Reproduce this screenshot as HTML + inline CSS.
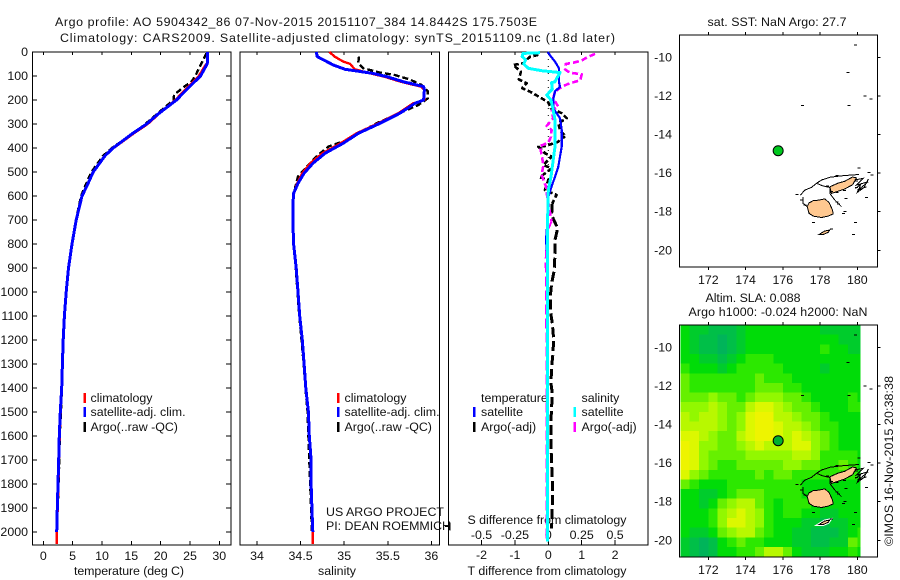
<!DOCTYPE html>
<html>
<head>
<meta charset="utf-8">
<title>Argo profile</title>
<style>
html,body{margin:0;padding:0;background:#fff;}
svg{display:block;}
text{font-family:"Liberation Sans",sans-serif;font-size:12.4px;fill:#111;}
</style>
</head>
<body>
<svg id="chart" xmlns="http://www.w3.org/2000/svg" width="900" height="580" viewBox="0 0 900 580">
<rect width="900" height="580" fill="#fff"/>
<defs>
<clipPath id="clip-map1"><rect x="679.5" y="35" width="198" height="232"/></clipPath>
<clipPath id="clip-map2"><rect x="679.5" y="325" width="198" height="232"/></clipPath>
</defs>
</svg>
<script>
/* ---------- axis tick values ---------- */
const depthTicks = [0,100,200,300,400,500,600,700,800,900,1000,1100,1200,1300,1400,1500,1600,1700,1800,1900,2000];
const tempTicks = [0,5,10,15,20,25,30];
const salTicks = [34,34.5,35,35.5,36];
const salTickLabels = ['34','34.5','35','35.5','36'];
const diffTTicks = [-2,-1,0,1,2];
const diffTLabels = ['-2','-1','0','1','2'];
const diffSTicks = [-0.5,-0.25,0,0.25,0.5];
const diffSLabels = ['-0.5','-0.25','0','0.25','0.5'];
const lonTicks = [172,174,176,178,180];
const latTicks = [-10,-12,-14,-16,-18,-20];

/* ---------- temperature panel ---------- */
const tempSatDepth = [0,47,60,100,157,200,258,300,338,400,433,500,560,600,700,800,900,1000,1100,1200,1300,1400,1500,1600,1700,1800,1900,2000];
const tempSat = [27.96,27.96,27.7,26.8,24.4,22.7,19.6,17.6,15.3,11.9,10.5,8.5,7.4,6.6,5.6,4.9,4.3,3.9,3.6,3.4,3.25,3.13,2.9,2.73,2.62,2.5,2.39,2.28];
const tempClimDepth = [0,47,60,100,157,200,258,300,338,400,433,500,560,600,700,800,900,1000,1100,1200,1300,1400,1500,1600,1700,1800,1900,2000,2050];
const tempClim = [27.9,27.9,27.5,26.5,24.2,22.5,19.7,17.8,15.5,12.0,10.5,8.5,7.4,6.6,5.6,4.9,4.3,3.9,3.6,3.4,3.25,3.15,2.95,2.8,2.68,2.58,2.45,2.3,2.28];
const tempArgoDepth = [5,25,60,100,122,145,178,200,258,300,338,400,433,500,560,600,700,800,900,1000,1100,1200,1300,1400,1500,1600,1700,1800,1900,2000];
const tempArgo = [27.8,27.4,26.7,25.9,25.3,24.0,22.3,22.2,19.4,17.4,15.4,11.7,10.2,8.2,7.1,6.45,5.55,4.9,4.3,3.9,3.6,3.4,3.27,3.17,3.0,2.8,2.72,2.6,2.45,2.32];

/* ---------- salinity panel ---------- */
const salSatDepth = [0,19,40,54,72,78,89,103,124,144,158,200,214,255,297,339,380,422,464,505,547,589,644,693,800,900,1000,1100,1200,1300,1400,1500,1600,1700,1800,1900,2000];
const salSat = [34.68,34.69,34.80,34.875,35.01,35.12,35.33,35.49,35.68,35.91,35.92,35.91,35.81,35.64,35.41,35.16,34.99,34.78,34.64,34.54,34.47,34.42,34.41,34.41,34.42,34.45,34.47,34.49,34.52,34.54,34.56,34.59,34.60,34.62,34.62,34.63,34.64];
const salClimDepth = [0,19,40,50,72,89,103,124,144,158,200,214,255,297,339,380,422,464,505,547,589,644,693,800,900,1000,1100,1200,1300,1400,1500,1600,1700,1800,1900,2000,2050];
const salClim = [34.83,34.89,34.99,35.07,35.12,35.30,35.46,35.65,35.88,35.92,35.92,35.79,35.62,35.39,35.14,34.96,34.75,34.61,34.52,34.46,34.42,34.41,34.41,34.42,34.45,34.47,34.49,34.52,34.54,34.56,34.59,34.60,34.62,34.62,34.63,34.64,34.64];
const salArgoDepth = [19,47,68,86,96,114,138,165,193,221,297,367,394,429,471,519,561,600,700,800,900,1000,1100,1200,1300,1400,1500,1600,1700,1800,1900,2000];
const salArgo = [35.17,35.16,35.22,35.41,35.58,35.75,35.89,35.96,35.96,35.85,35.37,35.03,34.82,34.70,34.59,34.47,34.44,34.42,34.41,34.42,34.445,34.465,34.485,34.51,34.535,34.555,34.58,34.59,34.60,34.61,34.62,34.63];

/* ---------- difference panel ---------- */
const dTSatDepth = [0,19,40,68,96,124,146,163,197,235,276,325,394,436,478,519,561,603,700,783,850,2000];
const dTSat = [-0.02,0.08,0.2,0.32,0.32,0.32,0.35,0.2,0.15,0.15,0.35,0.4,0.4,0.35,0.3,0.2,0.1,0,-0.02,-0.07,-0.03,-0.03];
const dSSatDepth = [3,6,19,33,50,68,78,86,110,124,128,155,179,200,242,283,339,394,450,519,575,700,2040];
const dSSat = [-0.062,-0.19,-0.195,-0.169,-0.184,-0.15,-0.05,0.088,0.063,0.05,0.025,0.03,-0.012,0.02,0.037,0.05,0.05,0.05,0.037,0.02,0,-0.005,-0.005];
const dTArgoDepth = [12,20,47,54,82,114,130,151,165,197,211,235,255,276,297,325,353,360,374,392,394,422,436,471,485,522,533,575,596,631,679,735,783,839,908,964,1019,1075,1131,1193,1256,1311,1381,1422,1533,1644,1714,1825,1894,1985];
const dTArgo = [-0.3,-0.55,-0.75,-1.05,-0.82,-0.88,-0.65,-0.78,-0.55,-0.15,0,0.08,0.4,0.55,0.3,0.35,0.52,0.35,0.3,-0.1,-0.3,-0.1,0.1,-0.15,0.1,-0.25,0,-0.1,0.25,0.12,0.1,0.28,0.2,0.2,0.18,0.1,0.06,0.06,0.12,0.16,0.14,0.1,0.08,0.12,0.08,0.08,0.1,0.13,0.12,0.1];
const dSArgoDepth = [8,22,36,44,50,72,86,93,117,133,142,165,193,228,244,276,308,325,353,378,392,429,471,512,561,589,707,742,867,950,1019,1117,1214,2040];
const dSArgo = [0.35,0.29,0.25,0.19,0.13,0.125,0.16,0.25,0.24,0.15,0.11,0.05,0.037,0.075,0.025,0.037,-0.012,0.025,0.02,0,-0.062,-0.05,-0.037,-0.05,-0.017,-0.012,0.025,-0.005,-0.02,-0.017,-0.017,-0.017,-0.012,-0.012];

/* ---------- altimetry heatmap (relative SLA level, 0.5 degree rows from north to south) ---------- */
const slaRows = [
[3,2,2,1,1,1,2,3,3,3,3,3,3,3,3,2,2,2,2,2],
[3,2,1,1,0,1,2,3,3,3,3,3,3,3,3,3,3,2,2,2],
[3,2,1,1,0,1,2,3,3,3,3,3,3,3,3,4,3,3,2,2],
[3,3,2,2,1,2,3,4,4,4,3,3,3,3,3,3,3,3,3,3],
[4,3,3,3,2,3,4,4,4,4,4,3,3,3,3,2,3,3,3,3],
[5,4,4,4,4,4,4,4,5,4,4,4,3,3,3,3,3,3,3,3],
[5,4,4,4,4,4,4,4,5,5,5,4,4,3,3,3,3,3,3,3],
[5,5,5,6,5,5,4,5,6,6,6,5,5,4,3,3,3,3,4,3],
[6,6,6,7,6,5,5,7,8,8,7,6,5,5,4,3,3,3,4,4],
[7,6,7,7,6,5,6,8,9,9,7,7,6,5,5,4,3,3,3,3],
[7,7,7,7,6,5,6,8,9,9,8,7,7,6,5,4,4,3,3,3],
[8,8,7,6,5,5,7,8,9,9,8,7,8,7,6,5,4,3,3,3],
[9,8,6,6,5,5,6,7,8,7,7,7,8,8,6,5,4,3,3,3],
[9,8,6,5,5,5,5,6,6,6,6,6,7,7,6,4,4,4,4,3],
[9,8,6,5,4,4,5,5,5,5,5,6,6,5,5,4,4,5,4,3],
[8,6,5,4,4,4,4,4,5,4,5,5,4,4,4,4,4,4,4,3],
[5,4,3,3,3,4,4,4,4,4,4,4,4,3,3,3,3,3,3,3],
[3,3,2,2,3,4,5,5,5,4,4,4,4,3,3,3,3,3,3,3],
[3,3,2,3,5,6,7,7,5,4,3,4,4,4,3,3,3,3,3,3],
[3,3,3,4,6,7,8,7,6,4,3,4,4,3,3,2,2,3,3,3],
[3,3,3,4,6,8,8,7,6,4,3,3,3,2,2,1,2,2,3,3],
[3,2,2,3,5,6,7,7,5,4,3,3,2,2,1,1,1,2,3,4],
[2,1,0,1,3,4,5,4,4,3,3,3,2,2,1,1,2,2,5,4],
[2,1,0,1,3,3,4,4,5,7,7,5,3,2,2,2,3,3,4,3]
];
const slaColors = ['#00b45a','#00bf48','#00cc2c','#00dc08','#2ce800','#66f000','#92f800','#b8f800','#dcf800','#eef400'];

/* ---------- map geography (lon, lat) ---------- */
const vitiLevu = [[177.31,-17.74],[177.41,-17.54],[177.63,-17.43],[177.95,-17.40],[178.26,-17.33],[178.49,-17.54],[178.67,-17.92],[178.70,-18.12],[178.43,-18.23],[178.08,-18.30],[177.63,-18.23],[177.41,-18.09]];
const vanuaLevu = [[178.52,-16.71],[178.97,-16.52],[179.33,-16.42],[179.74,-16.2],[179.95,-16.25],[179.75,-16.6],[179.33,-16.82],[178.88,-16.97],[178.61,-17.05]];
const kadavu = [[177.95,-19.18],[178.25,-19.0],[178.52,-18.95],[178.43,-19.07],[178.16,-19.18]];
const reefNorth = [[176.95,-17.14],[177.18,-16.88],[177.54,-16.74],[177.81,-16.53],[178.08,-16.36],[178.52,-16.22],[179.06,-16.15],[179.69,-16.10],[180.10,-16.07]];
const reefSouth = [[177.81,-16.53],[178.17,-16.67],[178.52,-16.74],[178.52,-17.05],[178.79,-17.40],[179.15,-17.74]];
const reefEast = [[179.86,-16.36],[180.31,-16.27],[179.95,-16.62],[180.58,-16.45],[180.04,-16.88],[180.49,-16.71]];
const reefEastOuter = [[179.9,-16.8],[180.2,-16.55],[180.0,-17.0],[180.35,-16.75],[180.6,-16.3]];
const reefWest = [[177.09,-17.23],[177.09,-17.57],[177.31,-17.74]];
const smallIslands = [[179.9,-9.35],[179.5,-10.78],[177.05,-12.49],[179.54,-12.49],[180.4,-12.0],[180.72,-12.15],[180.08,-15.73],[180.63,-15.96],[180.8,-16.1],[180.49,-17.26],[179.38,-17.31],[179.33,-18.0],[177.66,-18.55],[179.9,-18.57],[179.79,-19.18],[178.6,-18.9],[176.75,-17.12],[178.9,-16.13],[178.6,-16.95],[178.9,-17.0],[179.3,-16.9],[179.95,-16.4],[179.95,-16.75],[180.1,-16.85],[177.0,-17.4],[177.2,-17.65],[178.9,-17.5],[179.0,-17.6],[179.25,-18.1],[178.4,-16.68]];
const argoFloat = [175.75,-14.84];

/* ---------- scales ---------- */
const yDepth = d => 52 + d * 0.24;
const xTemp = v => 43.3 + v * 5.867;
const xSal = v => 257 + (v - 34) * 87.2;
const xDT = v => 548.3 + v * 33.4;
const xDS = v => 548.3 + v * 133.6;
const xLon = v => 708.3 + (v - 172) * 18.63;
const yLat1 = v => 57.3 + (-10 - v) * 19.3;
const yLat2 = v => 347.3 + (-10 - v) * 19.3;

const svg = document.getElementById('chart');
const NS = 'http://www.w3.org/2000/svg';

function make(tag, attrs, name, parent) {
  const el = document.createElementNS(NS, tag);
  for (const k in attrs) el.setAttribute(k, attrs[k]);
  
  
  (parent || svg).appendChild(el);
  return el;
}
function label(x, y, str, anchor, name, len, parent) {
  const a = {x: x, y: y, 'text-anchor': anchor || 'start'};
  if (len) { a.textLength = len; a.lengthAdjust = 'spacing'; }
  const t = make('text', a, name, parent);
  t.textContent = str;
  return t;
}
function seg(x1, y1, x2, y2, name, w, color, parent) {
  return make('line', {x1: x1, y1: y1, x2: x2, y2: y2, stroke: color || '#000', 'stroke-width': w || 1, 'shape-rendering': 'crispEdges'}, name, parent);
}
function frame(l, t, r, b, name) {
  return make('rect', {x: l, y: t, width: r - l, height: b - t, fill: 'none', stroke: '#000', 'stroke-width': 1.4, 'shape-rendering': 'crispEdges'}, name);
}
function profile(xs, depths, scale, color, w, name, dash) {
  const pts = xs.map((v, i) => scale(v).toFixed(1) + ',' + yDepth(depths[i]).toFixed(1)).join(' ');
  const a = {points: pts, fill: 'none', stroke: color, 'stroke-width': w, 'shape-rendering': 'crispEdges', 'stroke-linejoin': 'round'};
  if (dash) a['stroke-dasharray'] = dash;
  return make('polyline', a, name);
}
function legendRow(swatchX, textX, y, color, str, name) {
  if (color) make('rect', {x: swatchX, y: y - 5, width: 2.4, height: 10, fill: color, 'shape-rendering': 'crispEdges'}, name + '-swatch');
  label(textX, y + 4, str, 'start', name + '-label');
}

/* ---------- titles ---------- */
label(55, 26, 'Argo profile: AO 5904342_86 07-Nov-2015 20151107_384 14.8442S 175.7503E', 'start', 'title-line-1', 482);
label(60, 42, 'Climatology: CARS2009. Satellite-adjusted climatology: synTS_20151109.nc (1.8d later)', 'start', 'title-line-2', 555);

/* ---------- temperature panel ---------- */
frame(32.5, 52, 231, 545, 'temperature-panel-frame');
depthTicks.forEach(d => {
  seg(32.5, yDepth(d), 37, yDepth(d), 'depth-tick-left');
  seg(226, yDepth(d), 231, yDepth(d), 'depth-tick-right');
  label(28, yDepth(d) + 4, String(d), 'end', 'depth-tick-label');
});
tempTicks.forEach(v => {
  seg(xTemp(v), 52, xTemp(v), 55, 'temperature-tick-top');
  seg(xTemp(v), 541, xTemp(v), 545, 'temperature-tick-bottom');
  label(xTemp(v), 560, String(v), 'middle', 'temperature-tick-label');
});
label(129, 575, 'temperature (deg C)', 'middle', 'temperature-axis-title', 110);
legendRow(83.5, 90.5, 398, '#f00', 'climatology', 'temperature-legend-climatology');
legendRow(83.5, 90.5, 412, '#00f', 'satellite-adj. clim.', 'temperature-legend-satellite');
legendRow(83.5, 90.5, 427, '#000', 'Argo(..raw -QC)', 'temperature-legend-argo');
profile(tempArgo, tempArgoDepth, xTemp, '#000', 2.4, 'temperature-argo-line', '6 3');
profile(tempClim, tempClimDepth, xTemp, '#f00', 2.4, 'temperature-climatology-line');
profile(tempSat, tempSatDepth, xTemp, '#00f', 3, 'temperature-satellite-line');

/* ---------- salinity panel ---------- */
frame(240, 52, 439.5, 545, 'salinity-panel-frame');
salTicks.forEach((v, i) => {
  seg(xSal(v), 52, xSal(v), 55, 'salinity-tick-top');
  seg(xSal(v), 541, xSal(v), 545, 'salinity-tick-bottom');
  label(xSal(v), 560, salTickLabels[i], 'middle', 'salinity-tick-label');
});
label(337, 575, 'salinity', 'middle', 'salinity-axis-title', 38);
legendRow(337, 344.5, 398, '#f00', 'climatology', 'salinity-legend-climatology');
legendRow(337, 344.5, 412, '#00f', 'satellite-adj. clim.', 'salinity-legend-satellite');
legendRow(337, 344.5, 427, '#000', 'Argo(..raw -QC)', 'salinity-legend-argo');
label(326, 516, 'US ARGO PROJECT', 'start', 'project-label', 118);
label(326, 530, 'PI: DEAN ROEMMICH', 'start', 'pi-label', 125);
profile(salArgo, salArgoDepth, xSal, '#000', 2.4, 'salinity-argo-line', '6 3');
profile(salClim, salClimDepth, xSal, '#f00', 2.4, 'salinity-climatology-line');
profile(salSat, salSatDepth, xSal, '#00f', 3, 'salinity-satellite-line');

/* ---------- difference panel ---------- */
frame(448.5, 52, 648, 545, 'difference-panel-frame');
diffTTicks.forEach((v, i) => {
  seg(xDT(v), 52, xDT(v), 55, 'difference-tick-top');
  seg(xDT(v), 540, xDT(v), 545, 'difference-tick-bottom');
  label(xDT(v), 559, diffTLabels[i], 'middle', 'temperature-difference-tick-label');
});
diffSTicks.forEach((v, i) => {
  label(xDS(v), 539, diffSLabels[i], 'middle', 'salinity-difference-tick-label');
});
seg(445, 526.7, 450, 526.7, 'difference-left-tick');
seg(450, 522.7, 450, 530.7, 'difference-left-tick-cap');
label(467.5, 524, 'S difference from climatology', 'start', 'salinity-difference-axis-title', 159);
label(467.5, 575, 'T difference from climatology', 'start', 'temperature-difference-axis-title', 159);
label(481, 402, 'temperature', 'start', 'difference-legend-temperature-heading');
legendRow(473, 481, 412, '#00f', 'satellite', 'difference-legend-temperature-satellite');
legendRow(473, 481, 427, '#000', 'Argo(-adj)', 'difference-legend-temperature-argo');
label(581.5, 402, 'salinity', 'start', 'difference-legend-salinity-heading');
legendRow(573.5, 581.5, 412, '#0ff', 'satellite', 'difference-legend-salinity-satellite');
legendRow(573.5, 581.5, 427, '#f0f', 'Argo(-adj)', 'difference-legend-salinity-argo');
make('line', {x1: xDT(0), y1: 52, x2: xDT(0), y2: 545, stroke: '#000', 'stroke-width': 1, 'stroke-dasharray': '1 6'}, 'zero-difference-line');
const splitT = dTArgoDepth.findIndex(d => d >= 631);
const splitS = dSArgoDepth.findIndex(d => d >= 707);
profile(dTArgo.slice(0, splitT + 1), dTArgoDepth.slice(0, splitT + 1), xDT, '#000', 2.6, 'temperature-difference-argo-line-upper', '5 2.5');
profile(dTArgo.slice(splitT), dTArgoDepth.slice(splitT), xDT, '#000', 3, 'temperature-difference-argo-line-deep', '10 4');
profile(dSArgo.slice(0, splitS + 1), dSArgoDepth.slice(0, splitS + 1), xDS, '#f0f', 2.6, 'salinity-difference-argo-line-upper', '6 3');
profile(dSArgo.slice(splitS), dSArgoDepth.slice(splitS), xDS, '#f0f', 2, 'salinity-difference-argo-line-deep', '10 4');
profile(dTSat, dTSatDepth, xDT, '#00f', 2.2, 'temperature-difference-satellite-line');
profile(dSSat, dSSatDepth, xDS, '#0ff', 3, 'salinity-difference-satellite-line');

/* ---------- maps ---------- */
function geo(points, yLat) {
  return points.map(p => xLon(p[0]).toFixed(1) + ',' + yLat(p[1]).toFixed(1)).join(' ');
}
function drawCoast(yLat, clipId, prefix, whiteHalo) {
  const g = make('g', {'clip-path': 'url(#' + clipId + ')'}, prefix + '-coastline-group');
  if (whiteHalo) {
    make('polygon', {points: geo(kadavu, yLat), fill: '#fff', stroke: '#fff', 'stroke-width': 3}, prefix + '-kadavu-halo', g);
  }
  make('polygon', {points: geo(vitiLevu, yLat), fill: '#ffc890', stroke: '#000', 'stroke-width': 1, 'shape-rendering': 'crispEdges'}, prefix + '-viti-levu', g);
  make('polygon', {points: geo(vanuaLevu, yLat), fill: '#ffc890', stroke: '#000', 'stroke-width': 1, 'shape-rendering': 'crispEdges'}, prefix + '-vanua-levu', g);
  make('polygon', {points: geo(kadavu, yLat), fill: '#ffc890', stroke: '#000', 'stroke-width': 1, 'shape-rendering': 'crispEdges'}, prefix + '-kadavu', g);
  [reefNorth, reefSouth, reefEast, reefEastOuter, reefWest].forEach(r => {
    make('polyline', {points: geo(r, yLat), fill: 'none', stroke: '#000', 'stroke-width': 1, 'shape-rendering': 'crispEdges'}, prefix + '-reef-line', g);
  });
  smallIslands.forEach(p => {
    make('rect', {x: xLon(p[0]) - 1.5, y: yLat(p[1]) - 0.5, width: 3, height: 1, fill: '#000', 'shape-rendering': 'crispEdges'}, prefix + '-small-island', g);
  });
}
function mapAxes(top, bottom, yLat, prefix) {
  frame(679.5, top, 877.5, bottom, prefix + '-frame');
  lonTicks.forEach(v => {
    seg(xLon(v), top - 3, xLon(v), top, prefix + '-longitude-tick-top');
    seg(xLon(v), bottom, xLon(v), bottom + 3, prefix + '-longitude-tick-bottom');
    label(xLon(v), bottom + 17, String(v), 'middle', prefix + '-longitude-tick-label');
  });
  latTicks.forEach(v => {
    seg(877.5, yLat(v), 880.5, yLat(v), prefix + '-latitude-tick');
    label(672, yLat(v) + 4, String(v), 'end', prefix + '-latitude-tick-label');
  });
}
function argoDot(yLat, fill, prefix) {
  make('circle', {cx: xLon(argoFloat[0]), cy: yLat(argoFloat[1]), r: 5, fill: fill, stroke: '#000', 'stroke-width': 1}, prefix + '-argo-float-marker');
}

/* SST map */
label(777, 26, 'sat. SST: NaN Argo: 27.7', 'middle', 'sst-map-title', 139);
drawCoast(yLat1, 'clip-map1', 'sst-map', false);
argoDot(yLat1, '#00c81e', 'sst-map');
mapAxes(35, 267, yLat1, 'sst-map');

/* SLA map */
label(753, 302, 'Altim. SLA: 0.088', 'middle', 'sla-map-title-line-1', 95);
label(778, 316, 'Argo h1000: -0.024 h2000: NaN', 'middle', 'sla-map-title-line-2', 179);
const heatGroup = make('g', {'clip-path': 'url(#clip-map2)'}, 'sla-heatmap');
const cellW = 0.5 * 18.63;
const cellH = 0.5 * 19.3;
slaRows.forEach((row, j) => {
  row.forEach((v, i) => {
    const x0 = xLon(170.5 + i * 0.5);
    const y0 = 325 + j * cellH;
    const w = Math.min(x0 + cellW, 860) - x0;
    make('rect', {x: x0.toFixed(2), y: y0.toFixed(2), width: (w + 0.4).toFixed(2), height: (cellH + 0.4).toFixed(2), fill: slaColors[v], 'shape-rendering': 'crispEdges'}, 'sla-cell', heatGroup);
  });
});
drawCoast(yLat2, 'clip-map2', 'sla-map', true);
argoDot(yLat2, '#00b030', 'sla-map');
mapAxes(325, 557, yLat2, 'sla-map');

/* rotated stamp */
const stamp = label(0, 0, '©IMOS 16-Nov-2015 20:38:38', 'start', 'imos-timestamp', 170);
stamp.setAttribute('transform', 'translate(893,546) rotate(-90)');
</script>
</body>
</html>
